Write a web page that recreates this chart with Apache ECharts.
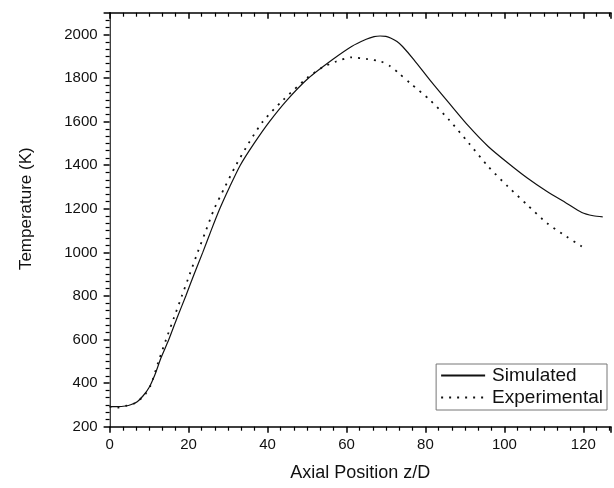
<!DOCTYPE html>
<html>
<head>
<meta charset="utf-8">
<script src="https://cdn.jsdelivr.net/npm/echarts@6/dist/echarts.min.js"></script>
<style>
html,body{margin:0;padding:0;background:#fff;}
#c{width:614px;height:488px;}
</style>
</head>
<body>
<div id="c"></div>
<script>
// Data
const simX = [0, 2, 4, 5.5, 7, 8.5, 10, 11.5, 13, 15.0, 17.1, 19.3, 21.4, 23.6, 25.7, 27.9, 30.4, 33.1, 36.6, 40.5, 45, 50.4, 56.4, 61.3, 65, 67, 68.5, 70, 71.3, 72.8, 74.2, 77.1, 81.1, 86.0, 91.0, 95.9, 100.9, 105.8, 110.8, 115.7, 119.6, 122.5, 124.9];
const simY = [292, 292, 295, 302, 315, 342, 380, 440, 515, 600, 700, 800, 900, 1000, 1100, 1200, 1300, 1400, 1500, 1600, 1700, 1800, 1884, 1945, 1978, 1990, 1993, 1991, 1983, 1968, 1945, 1884, 1792, 1685, 1578, 1486, 1410, 1341, 1279, 1226, 1183, 1168, 1163];
const expX = [0, 2.0, 4.0, 6.4, 8.9, 10.4, 12.4, 14.3, 16.3, 18.3, 20.3, 22.3, 24.4, 26.5, 29.2, 32.0, 35.2, 38.8, 44, 50, 54, 57.4, 61.3, 65.3, 68.7, 71, 73.2, 76.1, 81.1, 86.0, 91.0, 95.9, 100.9, 105.8, 110.8, 115.7, 119.6];
const expY = [292, 288, 295, 308, 346, 390, 500, 600, 700, 800, 900, 1000, 1100, 1200, 1300, 1400, 1500, 1600, 1700, 1800, 1850, 1876, 1895, 1887, 1876, 1855, 1823, 1777, 1700, 1608, 1501, 1394, 1302, 1218, 1134, 1073, 1027];
const xTicks = [0, 20, 40, 60, 80, 100, 120];
const yTicks = [200, 400, 600, 800, 1000, 1200, 1400, 1600, 1800, 2000];
const seriesNames = ['Simulated', 'Experimental'];

const pair = (xs, ys) => xs.map((x, i) => [x, ys[i]]);
const chart = echarts.init(document.getElementById('c'), null, {renderer: 'canvas'});
const font = 'Liberation Sans, Arial, sans-serif';
const axisCommonLine = {show: true, lineStyle: {color: '#000', width: 1.5}};

chart.setOption({
  animation: false,
  backgroundColor: '#fff',
  grid: {left: 109.6, right: 1.2, top: 12.7, bottom: 61.3, containLabel: false},
  legend: {
    data: seriesNames,
    orient: 'vertical',
    right: 7,
    top: 364,
    padding: [2, 4, 3, 4],
    itemGap: 3,
    itemWidth: 44,
    itemHeight: 20,
    borderColor: '#777',
    borderWidth: 1,
    backgroundColor: '#fff',
    itemStyle: {opacity: 0},
    textStyle: {fontFamily: font, fontSize: 19, color: '#111', padding: [0, 0, 0, 2]}
  },
  xAxis: [{
    type: 'value', position: 'bottom', min: 0, max: 127, interval: 20,
    name: 'Axial Position z/D', nameLocation: 'middle', nameGap: 37,
    nameTextStyle: {fontFamily: font, fontSize: 18, color: '#111'},
    axisLine: axisCommonLine,
    axisTick: {show: true, inside: false, length: 6, lineStyle: {color: '#000', width: 1.5}},
    minorTick: {show: true, splitNumber: 6, length: 4, lineStyle: {color: '#000', width: 1.2}},
    axisLabel: {margin: 11, fontFamily: font, fontSize: 15, color: '#111',
      formatter: v => xTicks.includes(v) ? String(v) : ''},
    splitLine: {show: false}
  }, {
    type: 'value', position: 'top', min: 0, max: 127, interval: 20,
    axisLine: axisCommonLine,
    axisTick: {show: true, inside: true, length: 6, lineStyle: {color: '#000', width: 1.5}},
    minorTick: {show: true, splitNumber: 6, length: 4, lineStyle: {color: '#000', width: 1.2}},
    axisLabel: {show: false},
    splitLine: {show: false}
  }],
  yAxis: [{
    type: 'value', position: 'left', min: 200, max: 2100, interval: 200,
    name: 'Temperature (K)', nameLocation: 'middle', nameGap: 75,
    nameTextStyle: {fontFamily: font, fontSize: 17, color: '#111', padding: [0, 0, 0, 22]},
    axisLine: axisCommonLine,
    axisTick: {show: true, inside: false, length: 6, lineStyle: {color: '#000', width: 1.5}},
    minorTick: {show: true, splitNumber: 6, length: 4, lineStyle: {color: '#000', width: 1.2}},
    axisLabel: {margin: 12, fontFamily: font, fontSize: 15, color: '#111',
      formatter: v => yTicks.includes(v) ? String(v) : ''},
    splitLine: {show: false}
  }, {
    type: 'value', position: 'right', min: 200, max: 2100, interval: 200,
    axisLine: {show: true, lineStyle: {color: '#bbb', width: 1}},
    axisTick: {show: false}, axisLabel: {show: false}, splitLine: {show: false}
  }],
  series: [{
    name: seriesNames[0], type: 'line', xAxisIndex: 0, yAxisIndex: 0,
    data: pair(simX, simY), smooth: 0.25, showSymbol: false, symbol: 'none',
    lineStyle: {color: '#111', width: 1.2, type: 'solid'}
  }, {
    name: seriesNames[1], type: 'line', xAxisIndex: 0, yAxisIndex: 0,
    data: pair(expX, expY), smooth: 0.25, showSymbol: false, symbol: 'none',
    lineStyle: {color: '#111', width: 1.8, type: [2, 6]}
  }]
});
</script>
</body>
</html>
